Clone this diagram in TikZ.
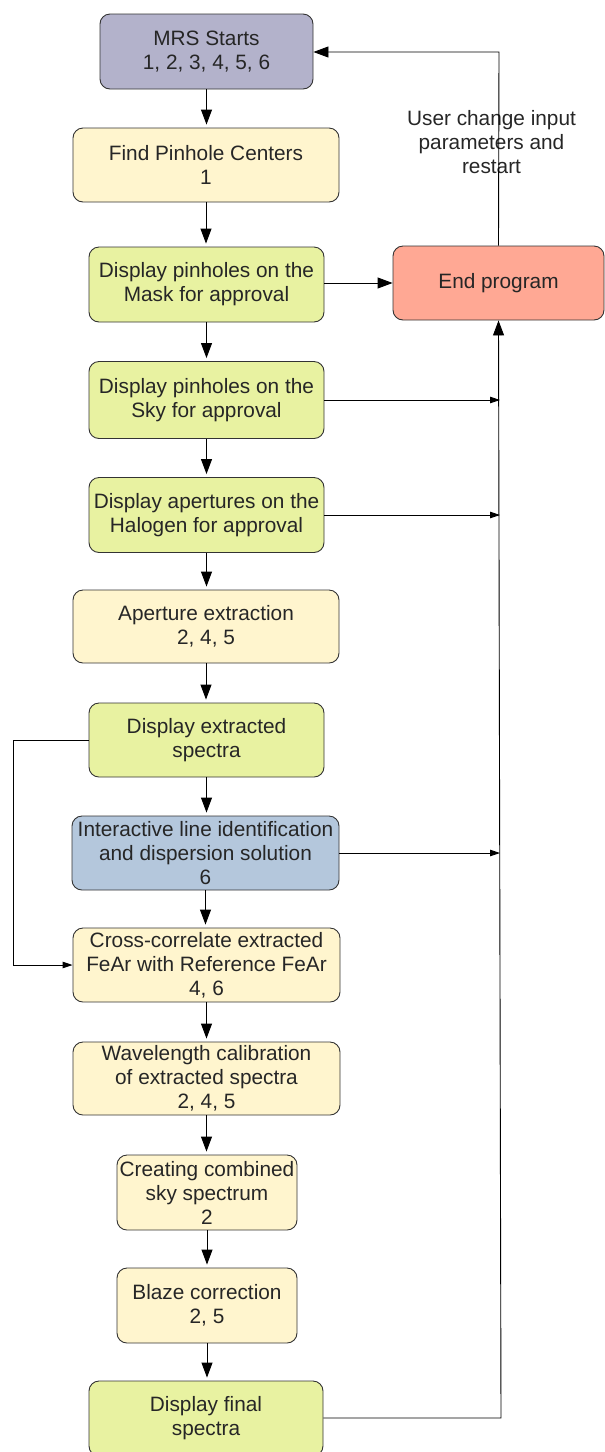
\documentclass[tikz,border=0pt]{standalone}
\usepackage{fontspec}
\setmainfont{Liberation Sans}
\usetikzlibrary{arrows.meta}
\definecolor{cmrs}{HTML}{B3B2CB}
\definecolor{cyel}{HTML}{FFF5CE}
\definecolor{cgrn}{HTML}{E8F2A1}
\definecolor{cblu}{HTML}{B4C7DC}
\definecolor{cend}{HTML}{FFA894}
\definecolor{cline}{HTML}{333333}
\begin{document}
\begin{tikzpicture}[x=1pt,y=-1pt,
  box/.style={draw=cline,line width=0.9pt,rounded corners=10pt,align=center,inner sep=0pt,
    font=\fontsize{20.8}{24}\selectfont,text=black!85},
  conn/.style={draw=black,line width=0.9pt},
  big/.style={conn,-{Triangle[length=15pt,width=11pt]}},
  small/.style={conn,-{Triangle[length=10pt,width=6.5pt]}}]
\useasboundingbox (0,0) rectangle (605,1452);
\begin{scope}
\clip (0,0) rectangle (605,1452);
\node[box,fill=cmrs,minimum width=213pt,minimum height=75pt] (mrs) at (206.5,51.5) {MRS Starts\\1, 2, 3, 4, 5, 6};
\node[box,fill=cyel,minimum width=266pt,minimum height=74pt] (find) at (206,165) {Find Pinhole Centers\\1};
\node[box,fill=cgrn,minimum width=235pt,minimum height=75pt] (mask) at (206.5,284.5) {Display pinholes on the\\Mask for approval};
\node[box,fill=cgrn,minimum width=235pt,minimum height=77pt] (sky) at (206.5,400) {Display pinholes on the\\Sky for approval};
\node[box,fill=cgrn,minimum width=235pt,minimum height=75pt] (halo) at (206.5,515) {Display apertures on the\\Halogen for approval};
\node[box,fill=cyel,minimum width=266pt,minimum height=73pt] (aper) at (206,626.5) {Aperture extraction\\2, 4, 5};
\node[box,fill=cgrn,minimum width=235pt,minimum height=74pt] (extr) at (206.5,740) {Display extracted\\spectra};
\node[box,fill=cblu,minimum width=267pt,minimum height=74pt] (inter) at (205.5,853) {Interactive line identification\\and dispersion solution\\6};
\node[box,fill=cyel,minimum width=267pt,minimum height=74pt] (cross) at (206.5,965) {Cross-correlate extracted\\FeAr with Reference FeAr\\4, 6};
\node[box,fill=cyel,minimum width=267pt,minimum height=73pt] (wave) at (206.5,1078.5) {Wavelength calibration\\of extracted spectra\\2, 4, 5};
\node[box,fill=cyel,minimum width=180pt,minimum height=75pt] (comb) at (207,1192.5) {Creating combined\\sky spectrum\\2};
\node[box,fill=cyel,minimum width=180pt,minimum height=75pt] (blaze) at (207,1305.5) {Blaze correction\\2, 5};
\node[box,fill=cgrn,minimum width=234pt,minimum height=75pt] (final) at (206,1418.5) {Display final\\spectra};
\node[box,fill=cend,minimum width=211pt,minimum height=74pt] (end) at (498.5,283) {End program};
\node[align=center,inner sep=0pt,font=\fontsize{20.8}{24}\selectfont,text=black!85] (lbl) at (491.5,142) {User change input\\parameters and\\restart};
\end{scope}
% vertical flow
\draw[big,shorten >=3pt] (mrs.south) -- (mrs.south |- find.north);
\draw[big,shorten >=3pt] (find.south) -- (find.south |- mask.north);
\draw[big,shorten >=3pt] (mask.south) -- (mask.south |- sky.north);
\draw[big,shorten >=3pt] (sky.south) -- (sky.south |- halo.north);
\draw[big,shorten >=3pt] (halo.south) -- (halo.south |- aper.north);
\draw[big,shorten >=3pt] (aper.south) -- (aper.south |- extr.north);
\draw[big,shorten >=3pt] (extr.south) -- (extr.south |- inter.north);
\draw[big,shorten >=3pt] (inter.south) -- (inter.south |- cross.north);
\draw[big,shorten >=3pt] (cross.south) -- (cross.south |- wave.north);
\draw[big,shorten >=3pt] (wave.south) -- (wave.south |- comb.north);
\draw[big,shorten >=3pt] (comb.south) -- (comb.south |- blaze.north);
\draw[big,shorten >=3pt] (blaze.south) -- (blaze.south |- final.north);
% to end program
\coordinate (jsky) at (500,400);
\coordinate (jhalo) at (500,515);
\coordinate (jinter) at (500,853);
\coordinate (jfin) at (501,1418);
\coordinate (jtop) at (499,52);
\draw[big] (mask.east |- end.west) -- (end.west);
\draw[small] (sky.east) -- (jsky);
\draw[small] (halo.east) -- (jhalo);
\draw[small] (inter.east) -- (jinter);
\draw[big] (final.east |- jfin) -- (jfin) -- (end.south);
\draw[big] (end.north) -- (jtop) -- (mrs.east |- jtop);
% loop to cross-correlation
\coordinate (l1) at (13,740);
\coordinate (l2) at (13,965);
\draw[small] (extr.west) -- (l1) -- (l2) -- (cross.west);
\end{tikzpicture}
\end{document}
